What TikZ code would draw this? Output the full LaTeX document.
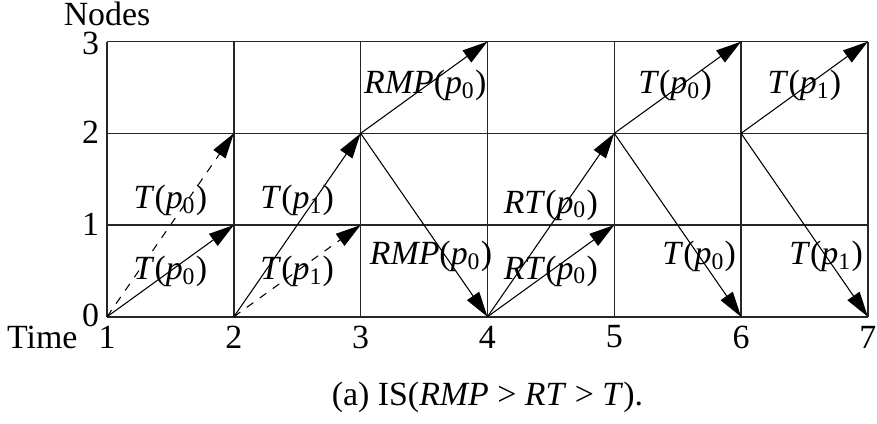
\documentclass[tikz,border=0pt]{standalone}
\usepackage{fontspec}
\setmainfont{Liberation Serif}
\usepackage{tikz}
\usetikzlibrary{arrows.meta}
\newcommand{\lbl}[2]{\textit{#1}(\textit{p}\textsubscript{#2})}

\begin{document}
\begin{tikzpicture}[
  x=47.55pt, y=34.39pt,
  font=\fontsize{12.7}{15}\selectfont,
  gridline/.style={line width=0.55pt, draw=black!85},
  arr/.style={-{Triangle[length=9.5pt, width=5.5pt]}, line width=0.4pt},
  dasharr/.style={arr, dash pattern=on 3pt off 3pt},
  tick/.style={inner sep=0pt},
  lab/.style={inner sep=0pt}
]
\useasboundingbox (0.156,-1.159) rectangle (7.072,3.454);
\foreach \t in {1,...,7}
  \foreach \n in {0,...,3}
    \coordinate (p\t\n) at (\t,\n);
% grid
\foreach \t in {1,...,7}
  \draw[gridline] (p\t0) -- (p\t3);
\foreach \n in {0,...,3}
  \draw[gridline] (p1\n) -- (p7\n);

% axes
\node[tick] (nodes) at (1,3.30) {Nodes};
\foreach \n in {0,1,2}
  \node[tick] (n\n) at (0.87,\n+0.01) {\n};
\node[tick] (n3) at (0.87,2.98) {3};
\node[tick] (time) at (0.49,-0.22) {Time};
\foreach \t in {1,...,7}
  \node[tick] (t\t) at (\t,-0.22) {\t};

% transfers
\draw[arr] (p10) -- (p21);
\draw[dasharr] (p10) -- (p22);
\draw[arr] (p20) -- (p32);
\draw[dasharr] (p20) -- (p31);
\draw[arr] (p32) -- (p43);
\draw[arr] (p32) -- (p40);
\draw[arr] (p40) -- (p52);
\draw[arr] (p40) -- (p51);
\draw[arr] (p52) -- (p63);
\draw[arr] (p52) -- (p60);
\draw[arr] (p62) -- (p73);
\draw[arr] (p62) -- (p70);

% labels
\node[lab] (a1) at (1.5,0.49) {\lbl{T}{0}};
\node[lab] (a2) at (1.5,1.27) {\lbl{T}{0}};
\node[lab] (b1) at (2.5,0.49) {\lbl{T}{1}};
\node[lab] (b2) at (2.5,1.27) {\lbl{T}{1}};
\node[lab] (c1) at (3.51,2.52) {\lbl{RMP}{0}};
\node[lab] (c2) at (3.555,0.66) {\lbl{RMP}{0}};
\node[lab] (d1) at (4.5,1.22) {\lbl{RT}{0}};
\node[lab] (d2) at (4.5,0.5) {\lbl{RT}{0}};
\node[lab] (e1) at (5.48,2.52) {\lbl{T}{0}};
\node[lab] (e2) at (5.67,0.66) {\lbl{T}{0}};
\node[lab] (f1) at (6.5,2.52) {\lbl{T}{1}};
\node[lab] (f2) at (6.67,0.66) {\lbl{T}{1}};

\node[lab] (caption) at (4.0,-0.88) {(a) IS(\textit{RMP} > \textit{RT} > \textit{T}).};
\end{tikzpicture}
\end{document}
